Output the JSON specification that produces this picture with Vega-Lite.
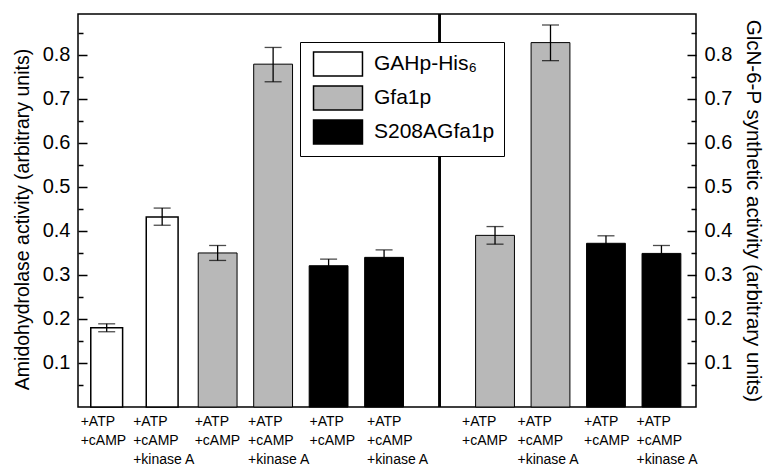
{
  "$schema": "https://vega.github.io/schema/vega-lite/v6.json",
  "width": 618,
  "height": 393,
  "autosize": {"type": "none"},
  "padding": {"left": 78, "top": 14, "right": 71, "bottom": 60},
  "background": "white",
  "config": {
    "view": {"stroke": "black", "strokeWidth": 1.5},
    "font": "Liberation Sans"
  },
  "data": {
    "values": [
      {"cond": "1:+ATP:+cAMP", "protein": "GAHp-His₆", "value": 0.18, "lo": 0.171, "hi": 0.189},
      {"cond": "2:+ATP:+cAMP:+kinase A", "protein": "GAHp-His₆", "value": 0.432, "lo": 0.413, "hi": 0.452},
      {"cond": "3:+ATP:+cAMP", "protein": "Gfa1p", "value": 0.35, "lo": 0.333, "hi": 0.367},
      {"cond": "4:+ATP:+cAMP:+kinase A", "protein": "Gfa1p", "value": 0.779, "lo": 0.739, "hi": 0.817},
      {"cond": "5:+ATP:+cAMP", "protein": "S208AGfa1p", "value": 0.321, "lo": 0.307, "hi": 0.336},
      {"cond": "6:+ATP:+cAMP:+kinase A", "protein": "S208AGfa1p", "value": 0.34, "lo": 0.324, "hi": 0.357},
      {"cond": "8:+ATP:+cAMP", "protein": "Gfa1p", "value": 0.39, "lo": 0.37, "hi": 0.41},
      {"cond": "9:+ATP:+cAMP:+kinase A", "protein": "Gfa1p", "value": 0.828, "lo": 0.787, "hi": 0.868},
      {"cond": "10:+ATP:+cAMP", "protein": "S208AGfa1p", "value": 0.372, "lo": 0.355, "hi": 0.389},
      {"cond": "11:+ATP:+cAMP:+kinase A", "protein": "S208AGfa1p", "value": 0.349, "lo": 0.331, "hi": 0.367}
    ]
  },
  "resolve": {"axis": {"y": "independent"}},
  "layer": [
    {
      "transform": [{"filter": "datum.protein == 'GAHp-His₆'"}],
      "mark": {"type": "bar", "width": {"band": 0.82}, "stroke": "black", "strokeWidth": 1.5},
      "encoding": {
        "x": {
          "field": "cond", "type": "ordinal",
          "scale": {
            "domain": ["1:+ATP:+cAMP", "2:+ATP:+cAMP:+kinase A", "3:+ATP:+cAMP", "4:+ATP:+cAMP:+kinase A", "5:+ATP:+cAMP", "6:+ATP:+cAMP:+kinase A", "7:", "8:+ATP:+cAMP", "9:+ATP:+cAMP:+kinase A", "10:+ATP:+cAMP", "11:+ATP:+cAMP:+kinase A"],
            "paddingInner": 0.3, "paddingOuter": 0.22, "align": 0.38
          },
          "sort": null,
          "axis": {
            "title": null, "ticks": false, "domain": false,
            "labelExpr": "slice(split(datum.value, ':'), 1)",
            "labelAngle": 0, "labelAlign": "left", "labelBaseline": "top",
            "labelFont": "Liberation Sans", "labelFontSize": 14, "labelColor": "black",
            "labelLineHeight": 19, "labelPadding": 7,
            "labelOffset": {
              "condition": [
                {"test": "split(datum.value, ':')[0] == '1'", "value": -26},
                {"test": "split(datum.value, ':')[0] == '2'", "value": -29},
                {"test": "split(datum.value, ':')[0] == '3'", "value": -23},
                {"test": "split(datum.value, ':')[0] == '4'", "value": -25},
                {"test": "split(datum.value, ':')[0] == '5'", "value": -19},
                {"test": "split(datum.value, ':')[0] == '6'", "value": -17},
                {"test": "split(datum.value, ':')[0] == '8'", "value": -33},
                {"test": "split(datum.value, ':')[0] == '9'", "value": -33},
                {"test": "split(datum.value, ':')[0] == '10'", "value": -22}
              ],
              "value": -25
            },
            "labelOverlap": false, "labelBound": false
          }
        },
        "y": {
          "field": "value", "type": "quantitative",
          "scale": {"domain": [0, 0.893], "nice": false},
          "axis": {
            "orient": "left",
            "values": [0.05, 0.1, 0.15, 0.2, 0.25, 0.3, 0.35, 0.4, 0.45, 0.5, 0.55, 0.6, 0.65, 0.7, 0.75, 0.8, 0.85],
            "labelExpr": "abs(datum.value*10 - round(datum.value*10)) < 0.001 ? format(datum.value, '.1f') : ''",
            "tickSize": {"condition": {"test": "abs(datum.value*10 - round(datum.value*10)) < 0.001", "value": -9}, "value": -5},
            "tickColor": "black", "tickWidth": 1.5, "domain": false, "grid": false,
            "labelFont": "Liberation Sans", "labelFontSize": 20, "labelColor": "black", "labelPadding": 17,
            "labelOverlap": false,
            "title": "Amidohydrolase activity (arbitrary units)",
            "titleFont": "Liberation Sans", "titleFontSize": 19.5, "titleFontWeight": "normal", "titleColor": "black",
            "titlePadding": 10, "titleY": 205
          }
        },
        "fill": {
          "field": "protein", "type": "nominal",
          "scale": {"domain": ["GAHp-His₆", "Gfa1p", "S208AGfa1p"], "range": ["white", "#b8b8b8", "black"]},
          "legend": {
            "orient": "none", "legendX": 222, "legendY": 28, "title": null,
            "symbolType": "M-2.04,-1H2.04V1H-2.04Z", "symbolSize": 576, "symbolOffset": 16,
            "symbolStrokeColor": "black", "symbolStrokeWidth": 1.5,
            "labelFont": "Liberation Sans", "labelFontSize": 21, "labelColor": "black",
            "labelOffset": 23, "rowPadding": 4,
            "strokeColor": "black", "padding": 9, "fillColor": "white"
          }
        }
      }
    },
    {
      "transform": [{"filter": "datum.protein != 'GAHp-His₆'"}],
      "mark": {"type": "bar", "stroke": "black", "strokeWidth": 1},
      "encoding": {
        "x": {"field": "cond", "type": "ordinal", "sort": null},
        "y": {"field": "value", "type": "quantitative", "axis": null},
        "fill": {"field": "protein", "type": "nominal"}
      }
    },
    {
      "mark": {"type": "rule", "color": "black", "strokeWidth": 1.3},
      "encoding": {
        "x": {"field": "cond", "type": "ordinal", "sort": null},
        "y": {"field": "lo", "type": "quantitative", "axis": null},
        "y2": {"field": "hi"}
      }
    },
    {
      "mark": {"type": "tick", "color": "black", "size": 17, "thickness": 1.3},
      "encoding": {
        "x": {"field": "cond", "type": "ordinal", "sort": null},
        "y": {"field": "lo", "type": "quantitative", "axis": null}
      }
    },
    {
      "mark": {"type": "tick", "color": "black", "size": 17, "thickness": 1.3},
      "encoding": {
        "x": {"field": "cond", "type": "ordinal", "sort": null},
        "y": {
          "field": "hi", "type": "quantitative",
          "axis": {
            "orient": "right",
            "values": [0.05, 0.1, 0.15, 0.2, 0.25, 0.3, 0.35, 0.4, 0.45, 0.5, 0.55, 0.6, 0.65, 0.7, 0.75, 0.8, 0.85],
            "labelExpr": "abs(datum.value*10 - round(datum.value*10)) < 0.001 ? format(datum.value, '.1f') : ''",
            "tickSize": {"condition": {"test": "abs(datum.value*10 - round(datum.value*10)) < 0.001", "value": -9}, "value": -5},
            "tickColor": "black", "tickWidth": 1.5, "domain": false, "grid": false,
            "labelFont": "Liberation Sans", "labelFontSize": 20, "labelColor": "black", "labelPadding": 17,
            "labelOverlap": false,
            "title": "GlcN-6-P synthetic activity (arbitrary units)",
            "titleFont": "Liberation Sans", "titleFontSize": 20.5, "titleFontWeight": "normal", "titleColor": "black",
            "titlePadding": 11
          }
        }
      }
    },
    {
      "mark": {"type": "rule", "color": "black", "strokeWidth": 1.5},
      "encoding": {
        "x": {"datum": "7:", "type": "ordinal"}
      }
    }
  ]
}
